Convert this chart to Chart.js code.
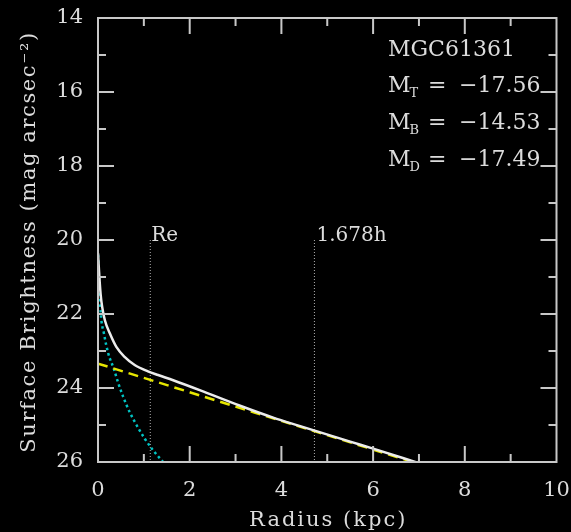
<!DOCTYPE html>
<html>
<head>
<meta charset="utf-8">
<script src="https://cdn.jsdelivr.net/npm/chart.js@4.4.1/dist/chart.umd.min.js"></script>
<style>
  html, body { margin: 0; padding: 0; background: #000; }
  #wrap { width: 571px; height: 532px; }
</style>
</head>
<body>
<div id="wrap"><canvas id="sb"></canvas></div>
<script>
/* ── DATA ───────────────────────────────────────────────── */
const totalR   = [0.0, 0.03, 0.06, 0.09, 0.15, 0.26, 0.40, 0.58, 0.80, 1.09, 1.31, 1.64, 2.37, 3.10, 3.82, 4.41, 5.5, 6.0, 7.0];
const totalMu  = [20.36, 21.0, 21.5, 21.8, 22.17, 22.53, 22.89, 23.16, 23.38, 23.55, 23.65, 23.79, 24.13, 24.48, 24.8, 25.03, 25.45, 25.64, 26.03];
const diskR    = [0.0, 7.0];
const diskMu   = [23.34, 26.05];
const bulgeR   = [0.0, 0.02, 0.06, 0.13, 0.22, 0.35, 0.44, 0.55, 0.69, 0.84, 1.02, 1.2, 1.42];
const bulgeMu  = [20.4, 20.95, 21.98, 22.53, 23.05, 23.5, 23.86, 24.24, 24.65, 25.0, 25.37, 25.68, 26.0];
const reR      = 1.14;        // Re marker
const hR       = 4.72;        // 1.678h marker
const markerMu = [20, 26];
const galaxy   = 'MGC61361';
const magNames = ['T', 'B', 'D'];
const magVals  = ['\u221217.56', '\u221214.53', '\u221217.49'];
const xTitle   = 'Radius (kpc)';
const yTitle   = 'Surface Brightness (mag arcsec\u207B\u00B2)';

const FONT = "'DejaVu Serif', serif";
const INK = '#dcdcdc';

const pts = (xs, ys) => xs.map((v, i) => ({ x: v, y: ys[i] }));

/* ── FRAME, INWARD TICKS, TEXT ──────────────────────────── */
const frameTicks = {
    id: 'frameTicks',
    beforeDraw(chart) {
        const { ctx, width, height } = chart;
        ctx.save();
        ctx.fillStyle = '#000';
        ctx.fillRect(0, 0, width, height);
        ctx.restore();
    },
    afterDatasetsDraw(chart) {
        const { ctx, chartArea: a, scales: { x, y } } = chart;
        ctx.save();
        ctx.strokeStyle = '#c8c8c8';
        ctx.lineWidth = 2;
        ctx.strokeRect(a.left, a.top, a.right - a.left, a.bottom - a.top);
        ctx.beginPath();
        for (let v = 1; v < 10; v++) {
            const len = v % 2 ? 8 : 16;
            const px = x.getPixelForValue(v);
            ctx.moveTo(px, a.bottom); ctx.lineTo(px, a.bottom - len);
            ctx.moveTo(px, a.top); ctx.lineTo(px, a.top + len);
        }
        for (let v = 15; v < 26; v++) {
            const len = v % 2 ? 8 : 16;
            const py = y.getPixelForValue(v);
            ctx.moveTo(a.left, py); ctx.lineTo(a.left + len, py);
            ctx.moveTo(a.right, py); ctx.lineTo(a.right - len, py);
        }
        ctx.stroke();
        ctx.restore();
    },
    afterDraw(chart) {
        const { ctx, chartArea: a, scales: { x, y } } = chart;
        ctx.save();
        ctx.fillStyle = INK;

        /* Axis titles (Hershey-ish wide spacing) */
        ctx.font = `21px ${FONT}`;
        ctx.textAlign = 'center';
        ctx.textBaseline = 'middle';
        ctx.letterSpacing = '2px';
        ctx.fillText(xTitle, (a.left + a.right) / 2 + 1, 521);
        ctx.save();
        ctx.translate(30, 242);
        ctx.rotate(-Math.PI / 2);
        ctx.letterSpacing = '1.6px';
        ctx.fillText(yTitle, 0, 0);
        ctx.restore();
        ctx.letterSpacing = '0px';

        /* Marker labels */
        ctx.textAlign = 'left';
        ctx.textBaseline = 'alphabetic';
        ctx.font = `20px ${FONT}`;
        ctx.fillText('Re', x.getPixelForValue(reR) + 1, y.getPixelForValue(20) + 1);
        ctx.fillText('1.678h', x.getPixelForValue(hR) + 2, y.getPixelForValue(20) + 1);

        /* Info block */
        const left = 388;
        ctx.font = `22px ${FONT}`;
        ctx.fillText(galaxy, left, 56);
        const bases = [92, 129, 166];
        magNames.forEach((n, i) => {
            ctx.font = `22px ${FONT}`;
            ctx.fillText('M', left, bases[i]);
            const wM = ctx.measureText('M').width;
            ctx.fillText('=', 428, bases[i]);
            ctx.fillText(magVals[i], 459, bases[i]);
            ctx.font = `13px ${FONT}`;
            ctx.fillText(n, left + wM - 1, bases[i] + 5);
        });
        ctx.restore();
    }
};

/* ── CHART ──────────────────────────────────────────────── */
const curve = { pointRadius: 0, fill: false, cubicInterpolationMode: 'monotone' };
const marker = { pointRadius: 0, fill: false, tension: 0, borderColor: '#b0b0b0', borderWidth: 1, borderDash: [1, 2] };

new Chart(document.getElementById('sb'), {
    type: 'line',
    data: {
        datasets: [
            { ...curve, label: 'Total', data: pts(totalR, totalMu), borderColor: '#ececec', borderWidth: 2.5 },
            { ...curve, label: 'Disk', data: pts(diskR, diskMu), borderColor: '#e6e600', borderWidth: 2.5, borderDash: [10, 6] },
            { ...curve, label: 'Bulge', data: pts(bulgeR, bulgeMu), borderColor: '#00c4c4', borderWidth: 2.5, borderDash: [2.5, 3] },
            { ...marker, label: 'Re', data: pts([reR, reR], markerMu) },
            { ...marker, label: '1.678h', data: pts([hR, hR], markerMu) }
        ]
    },
    options: {
        responsive: true,
        maintainAspectRatio: false,
        animation: false,
        devicePixelRatio: 1,
        layout: { padding: { top: 18, right: 14.5, left: 0, bottom: 0 } },
        plugins: { legend: { display: false }, tooltip: { enabled: false } },
        scales: {
            x: {
                type: 'linear', position: 'bottom', min: 0, max: 10,
                grid: { display: false, drawTicks: false }, border: { display: false },
                ticks: { stepSize: 2, color: INK, padding: 18, maxRotation: 0, autoSkip: false,
                         font: { family: FONT, size: 21, lineHeight: 1 } },
                afterFit: s => { s.height = 70; s.paddingLeft = 0; s.paddingRight = 0; }
            },
            y: {
                type: 'linear', position: 'left', min: 14, max: 26, reverse: true,
                grid: { display: false, drawTicks: false }, border: { display: false },
                ticks: { stepSize: 2, color: INK, padding: 15,
                         font: { family: FONT, size: 21, lineHeight: 1 } },
                afterFit: s => { s.width = 98; s.paddingTop = 0; s.paddingBottom = 0; }
            }
        }
    },
    plugins: [frameTicks]
});
</script>
</body>
</html>
